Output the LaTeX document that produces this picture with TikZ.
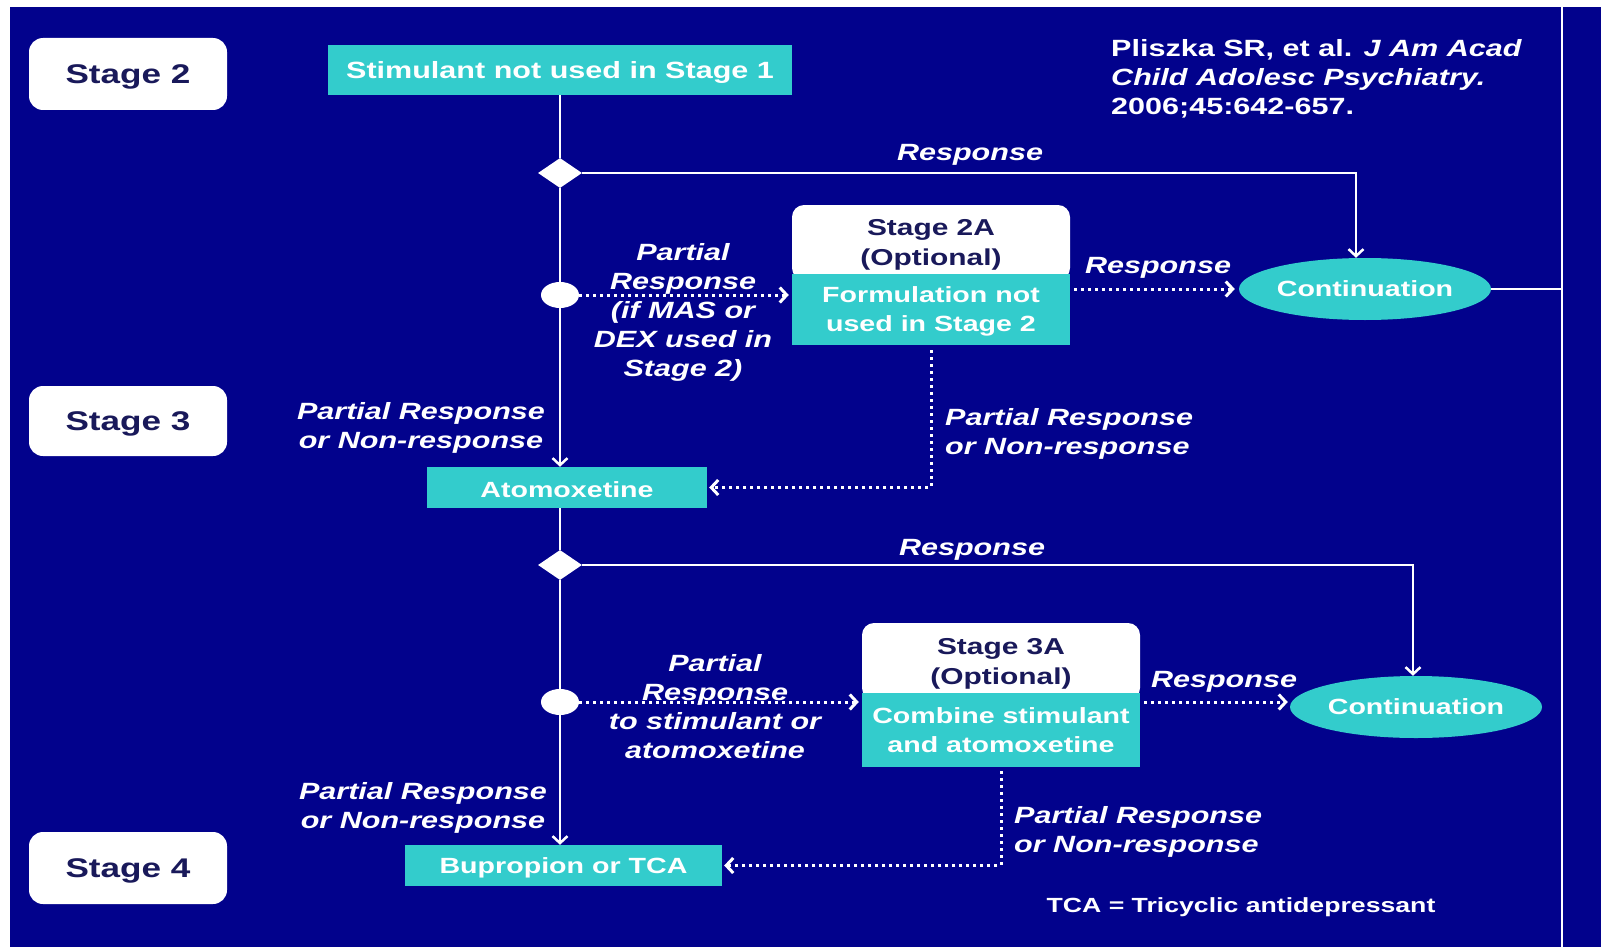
\documentclass[tikz,border=0pt]{standalone}
\usepackage{fontspec}
\setmainfont[FakeStretch=1.3]{Liberation Sans}
\usetikzlibrary{arrows.meta,shapes.geometric,calc}
\definecolor{navy}{RGB}{2,2,140}
\definecolor{teal2}{RGB}{51,204,204}
\definecolor{stagetxt}{RGB}{25,25,90}
\newcommand\lblf{\fontsize{23.5}{29}\selectfont\bfseries\itshape}
\newcommand\boxf{\fontsize{22}{29}\selectfont\bfseries}
\newcommand\stgf{\fontsize{27}{32}\selectfont\bfseries}
\newcommand\optf{\fontsize{23}{30}\selectfont\bfseries}
\newcommand\citf{\fontsize{23.5}{29}\selectfont\bfseries}
\begin{document}
\begin{tikzpicture}[x=1pt,y=-1pt,
  >={Straight Barb[length=7pt,width=15pt]},
  stagebox/.style={fill=white, rounded corners=14pt, minimum width=198, minimum height=72, inner sep=0pt, text=stagetxt, font=\stgf, text depth=0pt},
  tealbox/.style={fill=teal2, inner sep=0pt, text=white, font=\boxf, align=center},
  boxtxt/.style={text=white, font=\boxf, align=center, inner sep=0pt},
  optbox/.style={fill=white, rounded corners=12pt, inner sep=0pt, minimum width=278},
  opttxt/.style={text=stagetxt, font=\optf, align=center, inner sep=0pt},
  contell/.style={ellipse, fill=teal2, inner sep=0pt, minimum width=252, minimum height=62, text=white, font=\boxf},
  dia/.style={diamond, fill=white, inner sep=0pt, minimum width=44, minimum height=30},
  circ/.style={ellipse, fill=white, inner sep=0pt, minimum width=38, minimum height=26},
  lbl/.style={text=white, font=\lblf, align=center, inner sep=0pt},
  ln/.style={draw=white, line width=2.5pt},
  arr/.style={draw=white, line width=2.5pt, ->},
  darr/.style={draw=white, line width=3pt, dash pattern=on 3pt off 4pt, ->}
]
\useasboundingbox (0,0) rectangle (1601,947);
\fill[white] (0,0) rectangle (1601,947);
\fill[navy] (10,7) rectangle (1601,947);
\coordinate (vt) at (1562,7);
\coordinate (vb) at (1562,947);
\draw[ln] (vt) -- (vb);

% stage labels
\node[stagebox] (s2) at (128,74) {Stage 2};
\node[stagebox, minimum height=70] (s3) at (128,421) {Stage 3};
\node[stagebox] (s4) at (128,868) {Stage 4};

% main nodes
\node[tealbox, minimum width=464, minimum height=50, font=\fontsize{23.5}{29}\selectfont\bfseries, text depth=0pt] (stim) at (560,70) {Stimulant not used in Stage 1};
\node[dia] (d1) at (560,173) {};
\node[circ] (c1) at (560,295) {};
\node[optbox, minimum height=75] (o2) at (931,242.5) {};
\node[opttxt] (o2t) at ([yshift=-2pt]o2.center) {Stage 2A\\(Optional)};
\node[tealbox, minimum width=278, minimum height=71] (form) at (931,309.5) {};
\node[boxtxt] (formt) at ([yshift=-2pt]form.center) {Formulation not\\used in Stage 2};
\node[contell] (cont1) at (1365,289) {Continuation};
\node[tealbox, minimum width=280, minimum height=41, text height=19pt, text depth=0pt] (atom) at (567,487.5) {Atomoxetine};
\node[dia] (d2) at (560,565) {};
\node[circ] (c2) at (560,702) {};
\node[optbox, minimum height=77] (o3) at (1001,661.5) {};
\node[opttxt] (o3t) at ([yshift=-2.5pt]o3.center) {Stage 3A\\(Optional)};
\node[tealbox, minimum width=278, minimum height=74] (comb) at (1001,730) {};
\node[boxtxt] (combt) at (comb.center) {Combine stimulant\\and atomoxetine};
\node[contell] (cont2) at (1416,707) {Continuation};
\node[tealbox, minimum width=317, minimum height=41, text depth=0pt] (bup) at (563.5,865.5) {Bupropion or TCA};

% connectors
\draw[ln] (stim) -- (d1);
\draw[ln] (d1) -- (c1);
\draw[arr] (c1.south) -- (c1.south |- atom.north);
\draw[arr] (d1.east) -| ([xshift=-9pt]cont1.north);
\draw[darr, shorten >=3pt] (c1.east) -- (c1.east -| form.west);
\draw[darr, shorten <=4pt, shorten >=4pt] (form.east |- cont1.west) -- (cont1.west);
\draw[darr, shorten <=5pt, shorten >=2pt] (form.south) |- (atom.east);
\draw[ln] (cont1.east) -- (cont1.east -| vt);
\draw[ln] (atom.south -| d2) -- (d2.north);
\draw[ln] (d2) -- (c2);
\draw[arr] (c2.south) -- (c2.south |- bup.north);
\draw[arr] (d2.east) -| ([xshift=-3pt]cont2.north);
\draw[darr, shorten >=3pt] (c2.east) -- (c2.east -| comb.west);
\draw[darr, shorten <=4pt, shorten >=2pt] (comb.east |- c2.east) -- (c2.east -| cont2.west);
\draw[darr, shorten <=4pt, shorten >=2pt] (comb.south) |- (bup.east);

% labels
\node[lbl] (r1) at (970,155) {Response};
\node[lbl] (r2) at (1158,268) {Response};
\node[lbl] (r3) at (972,550) {Response};
\node[lbl] (r4) at (1224,682) {Response};
\node[lbl] (p1) at (683,312.5) {Partial\\Response\\(if MAS or\\DEX used in\\Stage 2)};
\node[lbl] (p2) at (421,427.5) {Partial Response\\or Non-response};
\node[lbl, anchor=west, align=left] (p3) at (945,433.5) {Partial Response\\or Non-response};
\node[lbl] (p4) at (715,707) {Partial\\Response\\to stimulant or\\atomoxetine};
\node[lbl] (p5) at (423,807.5) {Partial Response\\or Non-response};
\node[lbl, anchor=west, align=left] (p6) at (1014,832) {Partial Response\\or Non-response};
\node[text=white, font=\citf, align=left, anchor=west, inner sep=0pt] (cit) at (1111,79) {Pliszka SR, et al. \textit{J Am Acad}\\\textit{Child Adolesc Psychiatry.}\\2006;45:642-657.};
\node[text=white, font=\fontsize{20.5}{25}\selectfont\bfseries, inner sep=0pt] (tca) at (1241,907) {TCA = Tricyclic antidepressant};
\end{tikzpicture}
\end{document}
